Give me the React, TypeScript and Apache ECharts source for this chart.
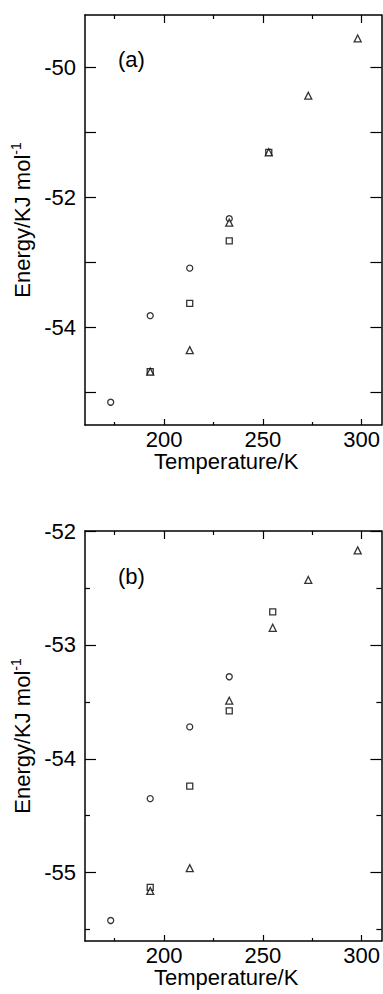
import React, { useEffect, useRef } from "react";
import * as echarts from "echarts";

const FONT = "Liberation Sans";

// Panel (a)
const aCircleT = [173, 193, 213, 233];
const aCircleE = [-55.15, -53.82, -53.09, -52.33];
const aSquareT = [193, 213, 233, 253];
const aSquareE = [-54.68, -53.63, -52.67, -51.31];
const aTriT = [193, 213, 233, 253, 273, 298];
const aTriE = [-54.68, -54.35, -52.39, -51.31, -50.44, -49.56];

// Panel (b)
const bCircleT = [173, 193, 213, 233];
const bCircleE = [-55.42, -54.35, -53.72, -53.28];
const bSquareT = [193, 213, 233, 255];
const bSquareE = [-55.13, -54.24, -53.58, -52.71];
const bTriT = [193, 213, 233, 255, 273, 298];
const bTriE = [-55.16, -54.96, -53.49, -52.85, -52.43, -52.17];

const xMajor = [200, 250, 300];
const xMinor = [175, 225, 275];
const aYLabels = [-54, -52, -50];
const aYTicks = [-55, -54, -53, -52, -51, -50];
const aYMinor: number[] = [];
const bYLabels = [-55, -54, -53, -52];
const bYTicks = [-55, -54, -53, -52];
const bYMinor = [-55.5, -54.5, -53.5, -52.5];

const xRange = [160, 310];
const aYRange = [-55.5, -49.2];
const bYRange = [-55.6, -52];

const zip = (t: number[], e: number[]) => t.map((v, i) => [v, e[i]]);

function makeX(grid: number) {
  const line = { show: true, lineStyle: { color: "#000", width: 1.5 } };
  const base = {
    type: "value",
    gridIndex: grid,
    min: xRange[0],
    max: xRange[1],
    splitLine: { show: false },
  };
  return [
    {
      ...base,
      position: "bottom",
      axisLine: line,
      axisTick: { show: true, inside: true, length: 6, customValues: xMajor, lineStyle: { color: "#000", width: 1.2 } },
      axisLabel: { show: true, customValues: xMajor, fontSize: 22, fontFamily: FONT, color: "#000", margin: 3 },
      name: "Temperature/K",
      nameLocation: "middle",
      nameGap: 22,
      nameTextStyle: { fontSize: 22, fontFamily: FONT, color: "#000", verticalAlign: "top", padding: [0, 14, 0, 0] },
    },
    {
      ...base,
      position: "bottom",
      axisLine: { show: false },
      axisTick: { show: true, inside: true, length: 3, customValues: xMinor, lineStyle: { color: "#000", width: 1.2 } },
      axisLabel: { show: false },
    },
    {
      ...base,
      position: "top",
      axisLine: line,
      axisTick: { show: true, inside: true, length: 8, customValues: xMajor, lineStyle: { color: "#000", width: 1.2 } },
      axisLabel: { show: false },
    },
    {
      ...base,
      position: "top",
      axisLine: { show: false },
      axisTick: { show: true, inside: true, length: 4, customValues: xMinor, lineStyle: { color: "#000", width: 1.2 } },
      axisLabel: { show: false },
    },
  ];
}

function makeY(grid: number, range: number[], labels: number[], ticks: number[], minor: number[]) {
  const line = { show: true, lineStyle: { color: "#000", width: 1.5 } };
  const base = {
    type: "value",
    gridIndex: grid,
    min: range[0],
    max: range[1],
    splitLine: { show: false },
  };
  const axes: any[] = [
    {
      ...base,
      position: "left",
      axisLine: line,
      axisTick: { show: true, inside: true, length: 11, customValues: ticks, lineStyle: { color: "#000", width: 1.2 } },
      axisLabel: { show: true, customValues: labels, fontSize: 22, fontFamily: FONT, color: "#000", margin: 9 },
      name: "{a|Energy/KJ mol}{b|-1}",
      nameLocation: "middle",
      nameRotate: 90,
      nameGap: 46,
      nameTextStyle: {
        color: "#000",
        rich: {
          a: { fontSize: 22, fontFamily: FONT, color: "#000", lineHeight: 26 },
          b: { fontSize: 14, fontFamily: FONT, color: "#000", verticalAlign: "top", lineHeight: 14 },
        },
      },
    },
    {
      ...base,
      position: "right",
      axisLine: line,
      axisTick: { show: true, inside: true, length: 11, customValues: ticks, lineStyle: { color: "#000", width: 1.2 } },
      axisLabel: { show: false },
    },
  ];
  if (minor.length) {
    axes.push(
      {
        ...base,
        position: "left",
        axisLine: { show: false },
        axisTick: { show: true, inside: true, length: 5, customValues: minor, lineStyle: { color: "#000", width: 1.2 } },
        axisLabel: { show: false },
      },
      {
        ...base,
        position: "right",
        axisLine: { show: false },
        axisTick: { show: true, inside: true, length: 5, customValues: minor, lineStyle: { color: "#000", width: 1.2 } },
        axisLabel: { show: false },
      }
    );
  }
  return axes;
}

function scatter(name: string, symbol: string, size: number, xi: number, yi: number, data: number[][]) {
  return {
    type: "scatter",
    name,
    symbol,
    symbolSize: size,
    xAxisIndex: xi,
    yAxisIndex: yi,
    data,
    itemStyle: { color: "#fff", borderColor: "#000", borderWidth: 1.3 },
  };
}

export default function App() {
  const ref = useRef<HTMLDivElement>(null);
  useEffect(() => {
    if (!ref.current) return;
    const chart = echarts.init(ref.current, undefined, { renderer: "svg" });
    const xA = makeX(0);
    const xB = makeX(1);
    const yA = makeY(0, aYRange, aYLabels, aYTicks, aYMinor);
    const yB = makeY(1, bYRange, bYLabels, bYTicks, bYMinor);
    const yAIndexMain = 0;
    const yBIndexMain = yA.length;
    chart.setOption({
      animation: false,
      backgroundColor: "#fff",
      grid: [
        { left: 85, top: 15, width: 297, height: 410 },
        { left: 85, top: 531, width: 297, height: 410 },
      ],
      xAxis: [...xA, ...xB],
      yAxis: [...yA, ...yB],
      series: [
        scatter("a-circle", "circle", 6, 0, yAIndexMain, zip(aCircleT, aCircleE)),
        scatter("a-square", "rect", 6, 0, yAIndexMain, zip(aSquareT, aSquareE)),
        scatter("a-triangle", "triangle", 7, 0, yAIndexMain, zip(aTriT, aTriE)),
        scatter("b-circle", "circle", 6, 4, yBIndexMain, zip(bCircleT, bCircleE)),
        scatter("b-square", "rect", 6, 4, yBIndexMain, zip(bSquareT, bSquareE)),
        scatter("b-triangle", "triangle", 7, 4, yBIndexMain, zip(bTriT, bTriE)),
      ],
      graphic: [
        { type: "text", left: 118, top: 48, style: { text: "(a)", fontSize: 22, fontFamily: FONT, fill: "#000" } },
        { type: "text", left: 118, top: 565, style: { text: "(b)", fontSize: 22, fontFamily: FONT, fill: "#000" } },
      ],
    });
    return () => chart.dispose();
  }, []);
  return (
    <div
      ref={ref}
      style={{ position: "fixed", left: 0, top: 0, width: 383, height: 994, background: "#fff" }}
    />
  );
}
